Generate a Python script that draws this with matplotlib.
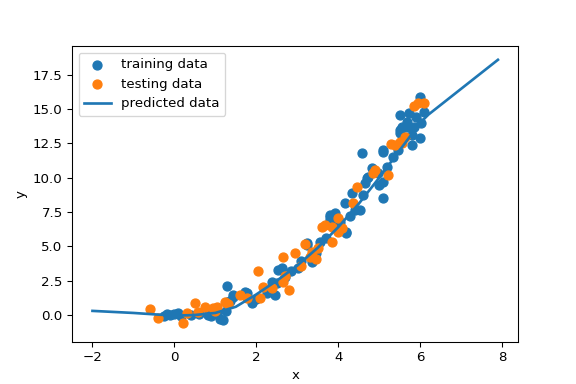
import numpy as np
import matplotlib
matplotlib.use("Agg")
import matplotlib.pyplot as plt

# training points
train_x = [-0.25, -0.17, -0.1, 0.0, 0.1, 0.15, 0.4, 0.6, 0.83, 0.9, 1.05, 1.12, 1.19, 1.25,
           1.29, 1.29, 1.35, 1.44, 1.44, 1.73, 1.78, 1.9, 2.0, 2.26, 2.38, 2.46, 2.5, 2.53,
           2.63, 2.7, 2.85, 3.02, 3.1, 3.24, 3.24, 3.36, 3.45, 3.55, 3.7, 3.8, 3.8, 3.8,
           3.92, 3.95, 4.05, 4.16, 4.2, 4.2, 4.3, 4.33, 4.4, 4.53, 4.57, 4.6, 4.65, 4.7,
           4.72, 4.82, 4.96, 5.0, 5.09, 5.09, 5.09, 5.09, 5.18, 5.33, 5.45, 5.5, 5.5, 5.5,
           5.55, 5.67, 5.67, 5.74, 5.79, 5.8, 5.86, 5.91, 5.99, 6.0, 6.03, 6.1]
train_y = [-0.1, 0.07, 0.0, 0.05, 0.15, -0.1, 0.0, 0.1, 0.0, -0.1, 0.15, -0.3, -0.36, 0.3,
           2.1, 0.95, 1.0, 1.3, 1.46, 1.68, 1.6, 0.87, 1.2, 1.6, 2.4, 1.46, 2.33, 3.28,
           3.43, 2.77, 3.2, 3.43, 3.9, 5.1, 5.25, 3.87, 4.5, 5.3, 5.6, 7.15, 6.93, 7.3,
           7.44, 6.5, 6.8, 8.17, 6.05, 5.98, 7.2, 8.9, 7.66, 7.66, 11.8, 8.75, 9.63, 10.0,
           10.06, 10.7, 10.36, 9.5, 8.53, 9.7, 11.9, 12.0, 10.8, 11.5, 12.0, 13.3, 13.5, 14.6,
           13.7, 13.7, 14.08, 14.73, 13.1, 12.4, 13.7, 14.44, 12.9, 15.9, 14.0, 14.8]

# testing points
test_x = [-0.6, -0.4, 0.22, 0.32, 0.5, 0.58, 0.75, 0.95, 1.0, 1.05, 1.24, 1.31, 1.6, 1.78,
          2.04, 2.09, 2.17, 2.38, 2.65, 2.65, 2.7, 2.8, 2.94, 3.1, 3.2, 3.3, 3.35, 3.45,
          3.5, 3.6, 3.67, 3.84, 3.84, 3.99, 3.99, 4.09, 4.36, 4.45, 4.84, 4.89, 5.21, 5.3,
          5.38, 5.5, 5.57, 5.62, 5.86, 5.94, 6.1]
test_y = [0.44, -0.2, -0.55, 0.15, 0.87, 0.22, 0.6, 0.5, 0.3, 0.55, 0.95, 0.8, 1.46, 1.24,
          3.2, 1.24, 2.04, 1.97, 2.4, 4.23, 2.85, 1.85, 4.55, 3.6, 5.2, 4.2, 4.6, 4.05,
          4.9, 6.4, 6.56, 5.32, 6.42, 6.05, 7.07, 6.35, 8.17, 9.34, 10.36, 10.58, 10.2, 12.47,
          12.4, 12.6, 12.55, 13.0, 15.2, 15.46, 15.46]

# predicted curve
pred_x = [-2.0, -1.0, 0.0, 0.5, 1.0, 1.5, 2.0, 2.5, 3.0, 3.5, 4.0, 4.5, 5.0, 5.5, 6.0, 6.2, 7.9]
pred_y = [0.3, 0.15, -0.05, 0.0, 0.15, 0.6, 1.5, 2.5, 3.6, 4.9, 6.4, 8.1, 10.0, 12.0, 14.0, 14.6, 18.6]

fig = plt.figure(figsize=(6, 4), dpi=96)
plt.scatter(train_x, train_y, s=45, label="training data")
plt.scatter(test_x, test_y, s=45, label="testing data")
plt.plot(pred_x, pred_y, linewidth=2, label="predicted data")
plt.xlim(-2.5, 8.4)
plt.ylim(-1.95, 19.6)
plt.xlabel("x")
plt.ylabel("y")
plt.legend(loc="upper left")
plt.savefig("out.png", dpi=96)
